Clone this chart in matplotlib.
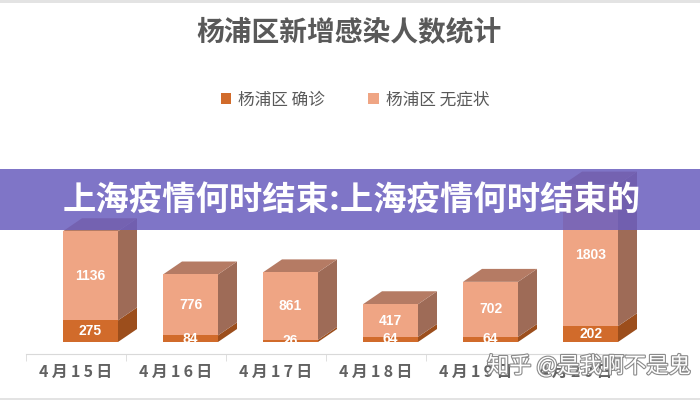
import matplotlib
matplotlib.use('Agg')
import matplotlib.pyplot as plt
from matplotlib.patches import Polygon, Patch, Rectangle
import matplotlib.patheffects as pe

plt.rcParams['font.family'] = ['Noto Sans CJK SC', 'DejaVu Sans']

# data
dates = ['4月15日', '4月16日', '4月17日', '4月18日', '4月19日', '4月20日']
confirmed = [275, 84, 26, 64, 64, 202]
asymptomatic = [1136, 776, 861, 417, 702, 1803]
series_names = ['杨浦区 确诊', '杨浦区 无症状']

title = '杨浦区新增感染人数统计'
banner = '上海疫情何时结束:上海疫情何时结束的'
watermark = '知乎 @是我啊不是鬼'

# colours: front, side
dark_front, dark_side = '#D16B2B', '#9C4E1C'
light_front, light_side, light_top = '#EFA584', '#9E6B57', '#B57B64'

fig = plt.figure(figsize=(7, 4), dpi=100)
ax = fig.add_axes([26 / 700, 46 / 400, 600 / 700, 194 / 400])
ax.set_xlim(-0.5, 5.5)
ax.set_ylim(-153, 2318)

off = 0.145      # front face shift
w = 0.55         # front face width
dx = 0.19        # depth in category units
dy = 165         # depth in value units

x = list(range(len(dates)))


def side(xr, y0, y1, color):
    pts = [(xr, y0), (xr + dx, y0 + dy), (xr + dx, y1 + dy), (xr, y1)]
    ax.add_patch(Polygon(pts, closed=True, facecolor=color, edgecolor='none', clip_on=False))


for i in x:
    c = confirmed[i]
    a = asymptomatic[i]
    xc = i + off
    xl, xr = xc - w / 2, xc + w / 2
    side(xr, 0, c, dark_side)
    side(xr, c, c + a, light_side)
    top = [(xl, c + a), (xl + dx, c + a + dy), (xr + dx, c + a + dy), (xr, c + a)]
    ax.add_patch(Polygon(top, closed=True, facecolor=light_top, edgecolor='none', clip_on=False))

bx = [i + off for i in x]
ax.bar(bx, confirmed, width=w, color=dark_front, zorder=2)
ax.bar(bx, asymptomatic, width=w, bottom=confirmed, color=light_front, zorder=2)

for i in x:
    ax.text(bx[i], confirmed[i] / 2, str(confirmed[i]), ha='center', va='center',
            color='white', fontsize=10, fontweight='bold', family='Liberation Sans', zorder=3)
    ax.text(bx[i], confirmed[i] + asymptomatic[i] / 2, str(asymptomatic[i]), ha='center',
            va='center', color='white', fontsize=10, fontweight='bold',
            family='Liberation Sans', zorder=3)

# a bar's white label can run off the bar: cover it with the background
ax.add_patch(Rectangle((-0.5, -153), 6, 153, facecolor='white', edgecolor='none', zorder=2.5))

for s in ['top', 'right', 'left']:
    ax.spines[s].set_visible(False)
ax.spines['bottom'].set_color('#D9D9D9')
ax.set_yticks([])
ax.set_xticks(x)
ax.set_xticklabels(['\u2009'.join(d) for d in dates], fontsize=11.5, fontweight='bold',
                   color='#626262')
ax.set_xticks([i - 0.5 for i in range(len(dates) + 1)], minor=True)
ax.tick_params(axis='x', which='major', length=0, pad=7)
ax.tick_params(axis='x', which='minor', length=5, color='#D9D9D9')

fig.text(0.499, 1 - 33 / 400, title, ha='center', va='center', fontsize=20,
         fontweight='semibold', color='#595959')

handles = [Patch(facecolor=dark_front), Patch(facecolor=light_front)]
fig.legend(handles, series_names, loc='center', bbox_to_anchor=(0.507, 1 - 100 / 400),
           ncol=2, frameon=False, handlelength=0.65, handleheight=0.65,
           handletextpad=0.4, columnspacing=2.6, prop={'size': 12, 'weight': 'medium'})
for t in fig.legends[0].get_texts():
    t.set_color('#595959')

# banner overlay
fig.patches.append(Rectangle((0, 1 - 230 / 400), 1, 61 / 400, transform=fig.transFigure,
                             facecolor='#6A5EBE', alpha=0.86, edgecolor='none', zorder=10))
fig.text(0.503, 1 - 200 / 400, banner, ha='center', va='center', fontsize=24,
         fontweight='heavy', color='white', zorder=11)

# watermark
fig.text(487 / 700, 1 - 366 / 400, watermark, ha='left', va='center', fontsize=16,
         color='white', zorder=12,
         path_effects=[pe.Stroke(linewidth=1.6, foreground='#8a8a8a'), pe.Normal()])

# frame lines of the screenshot
fig.patches.append(Rectangle((0, 1 - 3 / 400), 1, 3 / 400, transform=fig.transFigure,
                             facecolor='#E3E3E3', edgecolor='none', zorder=12))
fig.patches.append(Rectangle((0, 0), 1, 2 / 400, transform=fig.transFigure,
                             facecolor='#E3E3E3', edgecolor='none', zorder=12))

fig.savefig('out.png', dpi=100)
